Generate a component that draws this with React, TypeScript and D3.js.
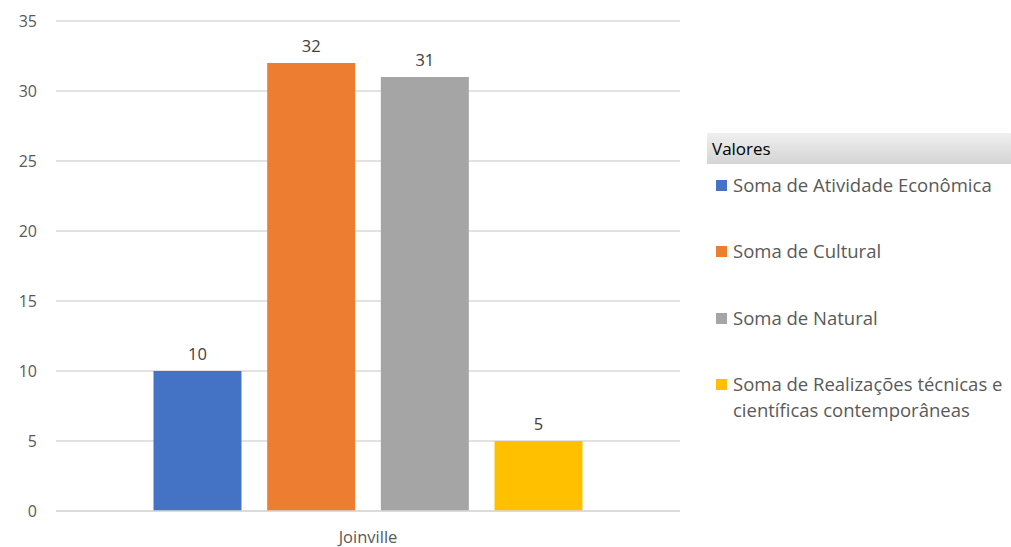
import React from "react";
import * as d3 from "d3";

const categories = ["Joinville"];
const seriesNames = [
  "Soma de Atividade Econômica",
  "Soma de Cultural",
  "Soma de Natural",
  "Soma de Realizações técnicas e científicas contemporâneas",
];
const seriesValues = [10, 32, 31, 5];
const seriesColors = ["#4472c4", "#ed7d31", "#a5a5a5", "#ffc000"];
const yTicks = [0, 5, 10, 15, 20, 25, 30, 35];
const legendTitle = "Valores";
const legendLines = [
  ["Soma de Atividade Econômica"],
  ["Soma de Cultural"],
  ["Soma de Natural"],
  ["Soma de Realizações técnicas e", "científicas contemporâneas"],
];

const W = 1011;
const H = 547;
const FONT = "'Open Sans', 'Noto Sans', sans-serif";

export default function App() {
  const plotLeft = 56;
  const plotRight = 680;
  const y = d3.scaleLinear().domain([0, 35]).range([511, 21]);
  const x0 = d3.scaleBand().domain(categories).range([plotLeft, plotRight]).paddingInner(0).paddingOuter(0.2273);
  const x1 = d3
    .scaleBand()
    .domain(seriesNames)
    .range([0, x0.bandwidth()])
    .paddingInner(0.226)
    .paddingOuter(0);

  const legendY = [186, 252, 319, 385];

  return (
    <div style={{ position: "fixed", left: 0, top: 0, width: W, height: H, overflow: "hidden" }}>
      <svg width={W} height={H} style={{ display: "block", background: "#fff" }} fontFamily={FONT}>
        <defs>
          <linearGradient id="hdr" x1="0" y1="0" x2="0" y2="1">
            <stop offset="0" stopColor="#f0f0f0" />
            <stop offset="1" stopColor="#d4d4d4" />
          </linearGradient>
        </defs>
        {yTicks.map((t) => (
          <g key={t}>
            <line x1={plotLeft} x2={plotRight} y1={y(t)} y2={y(t)} stroke="#d9d9d9" strokeWidth={1.3} />
            <text x={37} y={y(t)} dy="0.35em" textAnchor="end" fontSize={16} fill="#595959">
              {t}
            </text>
          </g>
        ))}
        {categories.map((c) => (
          <g key={c} transform={`translate(${x0(c)},0)`}>
            {seriesNames.map((s, i) => (
              <g key={s}>
                <rect
                  x={x1(s)}
                  y={y(seriesValues[i])}
                  width={x1.bandwidth()}
                  height={y(0) - y(seriesValues[i])}
                  fill={seriesColors[i]}
                />
                <text
                  x={(x1(s) as number) + x1.bandwidth() / 2}
                  y={y(seriesValues[i]) - 11}
                  textAnchor="middle"
                  fontSize={16.5}
                  fill="#404040"
                >
                  {seriesValues[i]}
                </text>
              </g>
            ))}
            <text x={x0.bandwidth() / 2} y={543} textAnchor="middle" fontSize={16.5} fill="#595959">
              {c}
            </text>
          </g>
        ))}
        <line x1={plotLeft} x2={plotRight} y1={y(0)} y2={y(0)} stroke="#d9d9d9" strokeWidth={1.5} />
        <rect x={707} y={133} width={W - 707} height={31} fill="url(#hdr)" />
        <text x={712} y={155} fontSize={17} fill="#000">
          {legendTitle}
        </text>
        {legendLines.map((lines, i) => (
          <g key={i}>
            <rect x={716} y={legendY[i] - 6} width={11} height={11} fill={seriesColors[i]} />
            {lines.map((l, j) => (
              <text key={j} x={733} y={legendY[i] + 6 + j * 26} fontSize={18.5} fill="#595959">
                {l}
              </text>
            ))}
          </g>
        ))}
      </svg>
    </div>
  );
}
